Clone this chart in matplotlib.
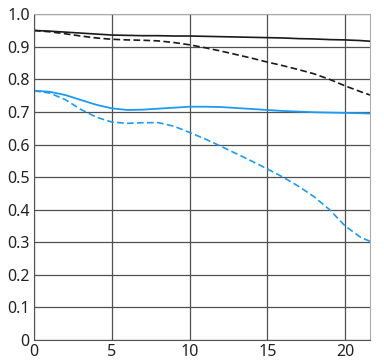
import numpy as np
import matplotlib.pyplot as plt

plt.rcParams['font.family'] = ['Noto Sans', 'DejaVu Sans']

x = [0, 1, 2, 3, 4, 5, 6, 7, 8, 9, 10, 11, 12, 13, 14, 15, 16, 17, 18, 19, 20, 21, 21.6]
sag_black = [0.95, 0.948, 0.945, 0.942, 0.939, 0.936, 0.935, 0.934, 0.934, 0.933, 0.933, 0.932,
             0.931, 0.930, 0.929, 0.928, 0.927, 0.925, 0.924, 0.922, 0.921, 0.919, 0.917]
mer_black = [0.95, 0.946, 0.94, 0.933, 0.927, 0.923, 0.921, 0.92, 0.918, 0.913, 0.906, 0.897,
             0.887, 0.876, 0.865, 0.853, 0.842, 0.83, 0.817, 0.8, 0.78, 0.762, 0.752]
sag_blue = [0.765, 0.762, 0.752, 0.737, 0.722, 0.711, 0.706, 0.707, 0.71, 0.713, 0.716, 0.716,
            0.715, 0.712, 0.709, 0.706, 0.703, 0.701, 0.699, 0.698, 0.697, 0.696, 0.695]
mer_blue = [0.765, 0.758, 0.738, 0.708, 0.684, 0.669, 0.665, 0.667, 0.667, 0.656, 0.637, 0.617,
            0.595, 0.572, 0.549, 0.525, 0.5, 0.472, 0.44, 0.4, 0.35, 0.315, 0.303]

fig = plt.figure(figsize=(3.84, 3.6), dpi=100)
ax = fig.add_axes([0.0885, 0.0556, 0.875, 0.905])

blue = '#1e9bf0'
ax.plot(x, sag_black, color='#1a1a1a', lw=1.2)
ax.plot(x, mer_black, color='#1a1a1a', lw=1.2, ls=(0, (4, 2)))
ax.plot(x, sag_blue, color=blue, lw=1.3)
ax.plot(x, mer_blue, color=blue, lw=1.2, ls=(0, (4, 2)))

ax.set_xlim(0, 21.6)
ax.set_ylim(0, 1.0)
ax.set_xticks([0, 5, 10, 15, 20])
ax.set_yticks(np.arange(0, 1.01, 0.1))
ax.set_yticklabels(['0', '0.1', '0.2', '0.3', '0.4', '0.5', '0.6', '0.7', '0.8', '0.9', '1.0'])
ax.grid(True, color='#505050', lw=0.9)
ax.set_axisbelow(True)
ax.tick_params(length=0, labelsize=11.5, colors='#222222', pad=3)
for s in ['top', 'right']:
    ax.spines[s].set_color('#aaaaaa')
for s in ['left', 'bottom']:
    ax.spines[s].set_color('#555555')

fig.savefig('out.png', dpi=100)
